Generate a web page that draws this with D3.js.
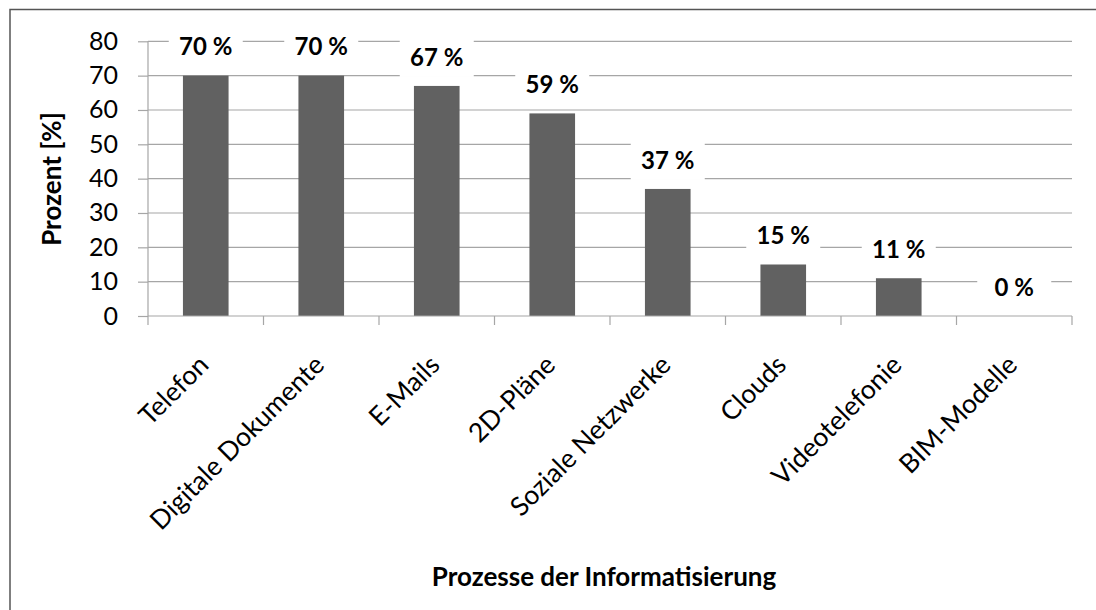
<!DOCTYPE html>
<html><head><meta charset="utf-8">
<script src="https://cdn.jsdelivr.net/npm/d3@7"></script>
<style>body{margin:0;background:#fff}svg{display:block}</style>
</head><body><svg id="c" width="1096" height="610"></svg>
<script>
const categories = ["Telefon","Digitale Dokumente","E-Mails","2D-Pläne","Soziale Netzwerke","Clouds","Videotelefonie","BIM-Modelle"];
const values = [70,70,67,59,37,15,11,0];
const yTicks = [0,10,20,30,40,50,60,70,80];
const yTitle = "Prozent [%]";
const xTitle = "Prozesse der Informatisierung";

const svg = d3.select("#c");
const font = "Lato, 'Open Sans', sans-serif";
const m = {l:148, r:1072, t:41.3, b:316};

// frame
svg.append("path").attr("d","M10,610 L10,9.5 L1096,9.5").attr("fill","none").attr("stroke","#555").attr("stroke-width",1.5);

const x = d3.scaleBand().domain(categories).range([m.l,m.r]).paddingInner(0.605).paddingOuter(0.3025);
const xb = d3.scaleBand().domain(categories).range([m.l,m.r]);
const y = d3.scaleLinear().domain([0,80]).range([m.b,m.t]);

// gridlines
svg.append("g").selectAll("line").data(yTicks.filter(d=>d>0)).join("line")
  .attr("x1",m.l).attr("x2",m.r).attr("y1",d=>y(d)).attr("y2",d=>y(d))
  .attr("stroke","#a6a6a6").attr("stroke-width",1.2);

// y axis
const yAxis = svg.append("g").attr("transform",`translate(${m.l},0)`)
  .call(d3.axisLeft(y).tickValues(yTicks).tickSize(10).tickPadding(20));
yAxis.select(".domain").attr("stroke","#a6a6a6").attr("stroke-width",1.2).attr("d",`M0,${m.t}V${m.b}`);
yAxis.selectAll(".tick line").attr("stroke","#a6a6a6").attr("stroke-width",1.2);
yAxis.selectAll("text").attr("font-family",font).attr("font-size",25).attr("fill","#000");

// bars
svg.append("g").selectAll("rect").data(values).join("rect")
  .attr("x",(d,i)=>x(categories[i])).attr("width",x.bandwidth())
  .attr("y",d=>y(d)).attr("height",d=>y(0)-y(d)).attr("fill","#616161");

// x axis
const xAxis = svg.append("g").attr("transform",`translate(0,${m.b})`)
  .call(d3.axisBottom(xb).tickSize(0).tickFormat(""));
xAxis.select(".domain").attr("stroke","#a6a6a6").attr("stroke-width",1.2).attr("d",`M${m.l},0H${m.r}`);
xAxis.selectAll(".tick").remove();
svg.append("g").selectAll("line").data(d3.range(categories.length+1)).join("line")
  .attr("x1",i=>m.l+i*xb.step()).attr("x2",i=>m.l+i*xb.step())
  .attr("y1",m.b).attr("y2",m.b+9).attr("stroke","#a6a6a6").attr("stroke-width",1.2);

// x labels
svg.append("g").selectAll("text").data(categories).join("text")
  .attr("transform",d=>`translate(${xb(d)+xb.bandwidth()/2-2},${m.b+44}) rotate(-45)`)
  .attr("text-anchor","end").attr("dy","0.35em")
  .attr("font-family",font).attr("font-size",26.5).attr("fill","#000").text(d=>d);

// data labels with white boxes
const lg = svg.append("g").selectAll("g").data(values).join("g")
  .attr("transform",(d,i)=>`translate(${x(categories[i])+x.bandwidth()/2},${y(d)-29})`);
lg.append("rect").attr("x",-37).attr("y",-20).attr("width",74).attr("height",40).attr("fill","#fff");
lg.append("text").attr("text-anchor","middle").attr("dy","0.36em")
  .attr("font-family",font).attr("font-weight","bold").attr("font-size",24).attr("fill","#000")
  .text(d=>d+" %");

// titles
svg.append("text").attr("transform",`translate(61,179) rotate(-90)`).attr("text-anchor","middle")
  .attr("font-family",font).attr("font-weight","bold").attr("font-size",26).text(yTitle);
svg.append("text").attr("x",604).attr("y",586).attr("text-anchor","middle")
  .attr("font-family",font).attr("font-weight","bold").attr("font-size",26).text(xTitle);
</script></body></html>
